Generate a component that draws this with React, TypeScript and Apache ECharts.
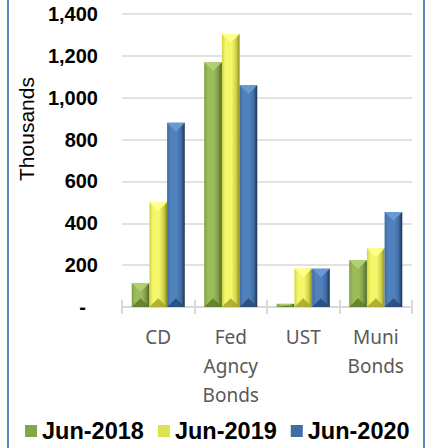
import React, { useEffect, useRef } from "react";
import * as echarts from "echarts";

const categories = ["CD", "Fed\nAgncy\nBonds", "UST", "Muni\nBonds"];
const seriesNames = ["Jun-2018", "Jun-2019", "Jun-2020"];
const jun2018 = [115, 1170, 15, 224];
const jun2019 = [500, 1305, 184, 281];
const jun2020 = [880, 1060, 183, 454];
const yTicks = [0, 200, 400, 600, 800, 1000, 1200, 1400];

const palettes = [
  { left: "#7f9c44", mid: "#9cbb5a", right: "#4c6124", top: "#b3cf74", bottom: "#5f7a2c", icon: "#86a548" },
  { left: "#d2d248", mid: "#f6f66a", right: "#8d8d22", top: "#ffff8c", bottom: "#a3a32c", icon: "#e0e050" },
  { left: "#3f6ba3", mid: "#4f81bd", right: "#1c3350", top: "#6b98d2", bottom: "#2a4a75", icon: "#3e6ea8" },
];

export default function App() {
  const ref = useRef<HTMLDivElement>(null);
  useEffect(() => {
    if (!ref.current) return;
    const chart = echarts.init(ref.current, null, { renderer: "svg" });
    const allSeries = [jun2018, jun2019, jun2020];

    const renderItem = (params: any, api: any) => {
      const s = params.seriesIndex;
      const p = palettes[s];
      const i = api.value(0);
      const v = api.value(1);
      const base = api.coord([i, 0]);
      const topPt = api.coord([i, v]);
      const band = api.size([1, 0])[0];
      const w = band * 0.244;
      const x0 = base[0] - 1.5 * w + s * w;
      const x1 = x0 + w;
      const xc = (x0 + x1) / 2;
      const top = topPt[1];
      const bottom = base[1];
      const h = bottom - top;
      const d = Math.min(w / 2, h / 2);
      return {
        type: "group",
        children: [
          {
            type: "rect",
            shape: { x: x0, y: top, width: w, height: h },
            style: {
              fill: {
                type: "linear",
                x: 0,
                y: 0,
                x2: 1,
                y2: 0,
                colorStops: [
                  { offset: 0, color: p.left },
                  { offset: 0.2, color: p.mid },
                  { offset: 0.55, color: p.mid },
                  { offset: 0.8, color: p.left },
                  { offset: 1, color: p.right },
                ],
              },
            },
          },
          {
            type: "polygon",
            shape: { points: [[x0, top], [x1, top], [xc, top + d]] },
            style: { fill: p.top },
          },
          {
            type: "polygon",
            shape: { points: [[x0, bottom], [x1, bottom], [xc, bottom - d]] },
            style: { fill: p.bottom, opacity: 0.85 },
          },
        ],
      };
    };

    const option: any = {
      animation: false,
      backgroundColor: "#ffffff",
      grid: { left: 122, right: 17, top: 14, bottom: 141, containLabel: false },
      legend: {
        data: seriesNames,
        left: 25,
        top: 419,
        padding: 0,
        itemWidth: 12,
        itemHeight: 12,
        itemGap: 14,
        icon: "rect",
        textStyle: {
          fontFamily: "'Liberation Sans', Arial, sans-serif",
          fontWeight: "bold",
          fontSize: 23.5,
          color: "#000000",
        },
      },
      xAxis: [
        {
          type: "category",
          data: categories,
          position: "bottom",
          axisLine: { show: true, lineStyle: { color: "#d9d9d9", width: 2 } },
          axisTick: { show: true, alignWithLabel: false, length: 7, lineStyle: { color: "#d9d9d9", width: 2 } },
          axisLabel: {
            margin: 15,
            fontFamily: "'Noto Sans', 'Open Sans', sans-serif",
            fontSize: 19,
            lineHeight: 29,
            color: "#595959",
            interval: 0,
          },
        },
        {
          type: "category",
          data: categories,
          position: "bottom",
          axisLine: { show: false },
          axisTick: { show: true, inside: true, length: 7, lineStyle: { color: "#d9d9d9", width: 2 } },
          axisLabel: { show: false },
        },
      ],
      yAxis: {
        type: "value",
        min: 0,
        max: 1400,
        interval: 200,
        axisLine: { show: false },
        axisTick: { show: false },
        splitLine: { lineStyle: { color: "#d9d9d9", width: 1.5 } },
        axisLabel: {
          margin: 24,
          fontFamily: "'Liberation Sans', Arial, sans-serif",
          fontWeight: "bold",
          fontSize: 20,
          color: "#000000",
          formatter: (v: number) =>
            v === 0 ? "{d|-}" : yTicks.includes(v) ? v.toLocaleString("en-US") : "",
          rich: {
            d: {
              fontFamily: "'Liberation Sans', Arial, sans-serif",
              fontWeight: "bold",
              fontSize: 20,
              color: "#000000",
              padding: [0, 12, 0, 0],
            },
          },
        },
      },
      graphic: [
        {
          type: "text",
          x: 26,
          y: 129,
          rotation: Math.PI / 2,
          style: {
            text: "Thousands",
            fontFamily: "'Liberation Sans', Arial, sans-serif",
            fontSize: 21,
            fill: "#000000",
            textAlign: "center",
            textVerticalAlign: "middle",
          },
        },
        {
          type: "line",
          shape: { x1: 8, y1: 0, x2: 8, y2: 448 },
          style: { stroke: "#5b87c5", lineWidth: 2 },
        },
        {
          type: "line",
          shape: { x1: 424, y1: 0, x2: 424, y2: 448 },
          style: { stroke: "#5b87c5", lineWidth: 2 },
        },
      ],
      series: allSeries.map((vals, s) => ({
        name: seriesNames[s],
        type: "custom",
        xAxisIndex: 0,
        yAxisIndex: 0,
        itemStyle: { color: palettes[s].icon },
        renderItem,
        encode: { x: 0, y: 1 },
        data: vals.map((v, i) => [i, v]),
      })),
    };
    chart.setOption(option);
    return () => chart.dispose();
  }, []);
  return <div ref={ref} style={{ width: 429, height: 448, position: "absolute", left: 0, top: 0 }} />;
}
